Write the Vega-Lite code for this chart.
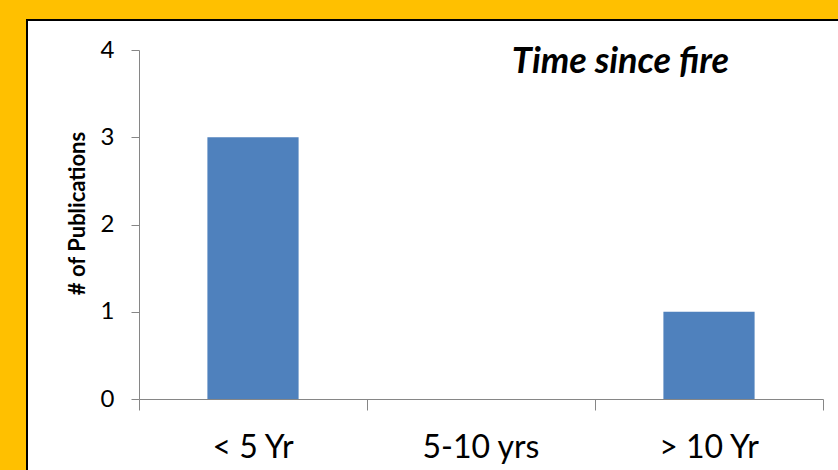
{
  "$schema": "https://vega.github.io/schema/vega-lite/v6.json",
  "autosize": "none",
  "width": 812,
  "height": 451,
  "padding": {"left": 27, "top": 20, "right": 0, "bottom": 0},
  "background": "#FFC000",
  "title": {
    "text": "Time since fire",
    "anchor": "end",
    "frame": "group",
    "orient": "top",
    "baseline": "top",
    "dx": -110,
    "dy": 65,
    "font": "Lato",
    "fontSize": 36,
    "fontStyle": "italic",
    "fontWeight": "bold",
    "color": "#000000"
  },
  "data": {
    "values": [
      {"period": "< 5 Yr", "count": 3},
      {"period": "5-10 yrs", "count": 0},
      {"period": "> 10 Yr", "count": 1}
    ]
  },
  "mark": {"type": "bar", "color": "#4F81BD", "width": {"band": 0.4}},
  "encoding": {
    "x": {
      "field": "period",
      "type": "nominal",
      "sort": null,
      "scale": {"range": [112, 796], "paddingInner": 0, "paddingOuter": 0},
      "axis": {
        "title": null,
        "offset": -72,
        "bandPosition": 1,
        "tickExtra": true,
        "tickSize": 11,
        "labelPadding": 22,
        "labelAngle": 0,
        "labelFont": "Lato",
        "labelFontSize": 32,
        "labelColor": "#000000",
        "domainColor": "#868686",
        "tickColor": "#868686"
      }
    },
    "y": {
      "field": "count",
      "type": "quantitative",
      "scale": {"domain": [0, 4], "range": [379, 30], "nice": false, "zero": true},
      "axis": {
        "title": "# of Publications",
        "offset": -112,
        "values": [0, 1, 2, 3, 4],
        "grid": false,
        "tickSize": 8,
        "labelPadding": 17,
        "labelFont": "Lato",
        "labelFontSize": 24,
        "labelColor": "#000000",
        "domainColor": "#868686",
        "tickColor": "#868686",
        "titleFont": "Lato",
        "titleFontSize": 22,
        "titleFontWeight": "bold",
        "titleColor": "#000000",
        "titleAngle": -90,
        "titleX": -62,
        "titleY": 193,
        "titleAlign": "center",
        "titleBaseline": "middle"
      }
    }
  },
  "config": {
    "view": {"fill": "#FFFFFF", "stroke": "#000000", "strokeWidth": 2}
  }
}
